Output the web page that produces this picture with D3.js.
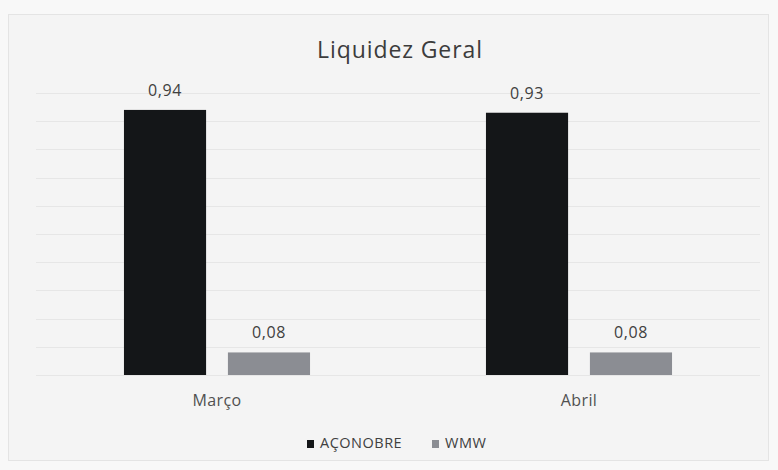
<!DOCTYPE html>
<html><head><meta charset="utf-8">
<script src="https://cdn.jsdelivr.net/npm/d3@7"></script>
<style>html,body{margin:0;padding:0;background:#fafafa;}svg{display:block;}</style>
</head><body>
<script>
const categories = ["Março", "Abril"];
const seriesNames = ["AÇONOBRE", "WMW"];
const acoNobre = [0.94, 0.93];
const wmw = [0.08, 0.08];
const valueLabels = [["0,94", "0,93"], ["0,08", "0,08"]];
const colors = ["#141618", "#8b8d93"];

const W = 778, H = 470;
const svg = d3.select("body").append("svg").attr("width", W).attr("height", H);
svg.append("rect").attr("x", 0).attr("y", 0).attr("width", W).attr("height", H).attr("fill", "#f8f8f8");
svg.append("rect").attr("x", 8.5).attr("y", 14.5).attr("width", 760).attr("height", 446)
  .attr("fill", "#f4f4f4").attr("stroke", "#e4e4e4");

const font = "'Open Sans', 'Noto Sans', sans-serif";
const plotTop = 93, plotBottom = 375;
const y = d3.scaleLinear().domain([0, 1]).range([plotBottom, plotTop]);
const x0 = d3.scaleBand().domain(categories).range([36, 760]).paddingInner(0.486).paddingOuter(0.243);
const x1 = d3.scaleBand().domain(seriesNames).range([0, x0.bandwidth()]).paddingInner(0.21);

// gridlines
svg.append("g").selectAll("line").data(d3.range(0, 1.0001, 0.1)).join("line")
  .attr("x1", 36).attr("x2", 760)
  .attr("y1", d => Math.round(y(d)) + 0.5).attr("y2", d => Math.round(y(d)) + 0.5)
  .attr("stroke", "#e6e6e6").attr("stroke-width", 1);

const series = [acoNobre, wmw];
series.forEach((vals, si) => {
  const g = svg.append("g");
  g.selectAll("rect").data(categories).join("rect")
    .attr("x", c => x0(c) + x1(seriesNames[si]))
    .attr("y", (c, i) => y(vals[i]))
    .attr("width", x1.bandwidth())
    .attr("height", (c, i) => y(0) - y(vals[i]))
    .attr("fill", colors[si]);
  g.selectAll("text").data(categories).join("text")
    .attr("x", c => x0(c) + x1(seriesNames[si]) + x1.bandwidth() / 2)
    .attr("y", (c, i) => y(vals[i]) - 14)
    .attr("text-anchor", "middle")
    .attr("font-family", font).attr("font-size", 16).attr("letter-spacing", 0.6).attr("fill", "#404040")
    .text((c, i) => valueLabels[si][i]);
});

// category axis labels
const xAxis = svg.append("g").attr("transform", `translate(0,${plotBottom})`)
  .call(d3.axisBottom(x0).tickSize(0).tickPadding(20));
xAxis.select(".domain").remove();
xAxis.selectAll("text").attr("font-family", font).attr("font-size", 16).attr("letter-spacing", 0.4).attr("fill", "#505050");

// title
svg.append("text").attr("x", 400).attr("y", 58).attr("text-anchor", "middle")
  .attr("font-family", font).attr("font-size", 23).attr("letter-spacing", 0.9).attr("fill", "#3c3c3c").text("Liquidez Geral");

// legend
const legend = svg.append("g");
const lx = [307, 432];
seriesNames.forEach((n, i) => {
  legend.append("rect").attr("x", lx[i]).attr("y", 440).attr("width", 7).attr("height", 8).attr("fill", colors[i]);
  legend.append("text").attr("x", lx[i] + 13).attr("y", 448)
    .attr("font-family", font).attr("font-size", 14.5).attr("letter-spacing", 0.5).attr("fill", "#404040").text(n);
});
</script>
</body></html>
